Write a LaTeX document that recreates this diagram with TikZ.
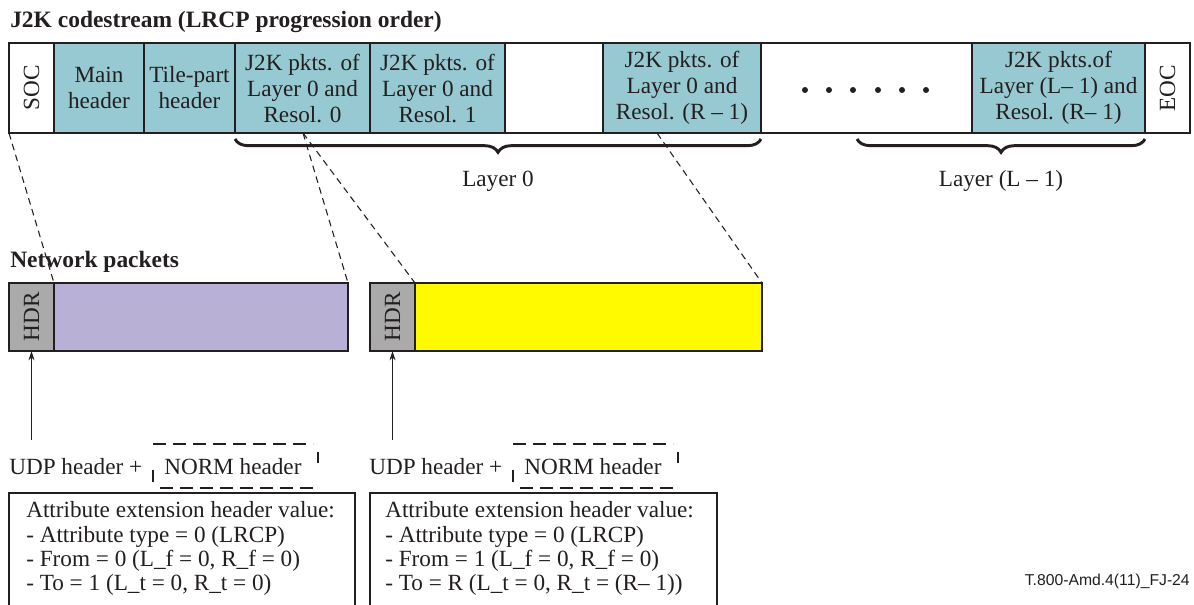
\documentclass[tikz,border=0pt]{standalone}
\usepackage{fontspec}
\usepackage{graphicx}
\setmainfont{Liberation Serif}
\newfontfamily\footfont{Liberation Sans}
\usetikzlibrary{decorations.pathreplacing,arrows.meta}
\newdimen\pxu \pxu=0.75pt
\definecolor{jteal}{RGB}{150,201,209}
\definecolor{jpurple}{RGB}{185,176,214}
\definecolor{jgray}{RGB}{170,170,170}
\definecolor{jyellow}{RGB}{255,250,0}
\definecolor{linec}{RGB}{35,31,32}
\begin{document}
\begin{tikzpicture}[x=0.75pt,y=-0.75pt,
  every node/.style={text=linec},
  cell/.style={draw=linec, line width=1pt, inner sep=0pt, outer sep=0pt, anchor=north west,
    minimum height=90\pxu, align=center, font=\fontsize{17.4}{19.5}\selectfont},
  pkt/.style={draw=linec, line width=1.1pt, inner sep=0pt, outer sep=0pt, anchor=north west,
    minimum height=68\pxu, font=\fontsize{17.4}{19.5}\selectfont},
  conn/.style={draw=linec, line width=0.8pt, dash pattern=on 5pt off 3.5pt},
  arr/.style={draw=linec, line width=0.8pt, -{Stealth[length=7pt,width=4.5pt]}},
  lbrace/.style={draw=linec, line width=2.2pt, decorate, decoration={brace, mirror, amplitude=10pt}},
  lbl/.style={inner sep=0pt, font=\fontsize{17.4}{19.5}\selectfont},
  ttl/.style={inner sep=0pt, font=\fontsize{17.6}{19.5}\selectfont\bfseries},
  normd/.style={draw=linec, line width=0.8pt, dash pattern=on 10pt off 5pt},
  attbox/.style={draw=linec, line width=1pt, inner sep=0pt, outer sep=0pt, anchor=north west},
  atttext/.style={inner sep=0pt, anchor=north west, align=left, font=\fontsize{17.4}{18.2}\selectfont}
]
\useasboundingbox[fill=white] (0,0) rectangle (1194,604);

% title
\node[ttl, anchor=base west] (title) at (10,27) {J2K codestream (LRCP progression order)};

% codestream cells
\node[cell, fill=white, minimum width=45\pxu] (soc) at (9,43) {\rotatebox{90}{SOC}};
\node[cell, fill=jteal, minimum width=90\pxu] (mainh) at (54,43) {Main\\header};
\node[cell, fill=jteal, minimum width=91\pxu] (tileh) at (144,43) {Tile-part\\header};
\node[cell, fill=jteal, minimum width=135\pxu] (r0) at (235,43) {J2K pkts. of\\Layer 0 and\\Resol. 0};
\node[cell, fill=jteal, minimum width=135\pxu] (r1) at (370,43) {J2K pkts. of\\Layer 0 and\\Resol. 1};
\node[cell, fill=white, minimum width=98\pxu] (gapa) at (505,43) {};
\node[cell, fill=jteal, minimum width=158\pxu] (rR) at (603,43) {J2K pkts. of\\Layer 0 and\\Resol. (R -- 1)};
\node[cell, fill=white, minimum width=211\pxu] (gapb) at (761,43) {};
\node[cell, fill=jteal, minimum width=173\pxu] (rL) at (972,43) {J2K pkts.of\\Layer (L-- 1) and\\Resol. (R-- 1)};
\node[cell, fill=white, minimum width=45\pxu] (eoc) at (1145,43) {\rotatebox{90}{EOC}};

% dots
\foreach \dx in {805,829,853,878,902,926}
  \fill[linec] (\dx,90) circle (3);

% braces
\draw[lbrace] (235,139) -- (761,139);
\draw[lbrace] (857,139) -- (1145,139);
\node[lbl, anchor=base] (lay0) at (498,186) {Layer 0};
\node[lbl, anchor=base] (layL) at (1001,186) {Layer (L -- 1)};

% network packets
\node[ttl, anchor=base west] (netp) at (10,267) {Network packets};
\node[pkt, fill=jgray, minimum width=45\pxu] (hdr1) at (9,283) {\rotatebox{90}{HDR}};
\node[pkt, fill=jpurple, minimum width=294\pxu] (pay1) at (54,283) {};
\node[pkt, fill=jgray, minimum width=45\pxu] (hdr2) at (370,283) {\rotatebox{90}{HDR}};
\node[pkt, fill=jyellow, minimum width=347\pxu] (pay2) at (415,283) {};

% dashed mapping lines
\coordinate (r0a) at (303,133);
\coordinate (rRa) at (657,133);
\draw[conn] (soc.south west) -- (hdr1.north east);
\draw[conn] (r0a) -- (pay1.north east);
\draw[conn] (r0a) -- (hdr2.north east);
\draw[conn] (rRa) -- (pay2.north east);

% arrows
\coordinate (a1) at (31.5,440);
\coordinate (a2) at (392.5,440);
\draw[arr] (a1) -- (hdr1.south);
\draw[arr] (a2) -- (hdr2.south);

% UDP / NORM labels
\node[lbl, anchor=west] (udp1) at (9,467) {UDP header +};
\node[lbl, anchor=west] (norm1) at (164,467) {NORM header};
\draw[normd] (153,444) -- (313,444);
\draw[normd] (160,488) -- (318,488);
\draw[line width=0.8pt, linec] (153,470) -- (153,482);
\draw[line width=0.8pt, linec] (318,452) -- (318,463);

\node[lbl, anchor=west] (udp2) at (369,467) {UDP header +};
\node[lbl, anchor=west] (norm2) at (524,467) {NORM header};
\draw[normd] (513,444) -- (673,444);
\draw[normd] (520,488) -- (678,488);
\draw[line width=0.8pt, linec] (513,470) -- (513,482);
\draw[line width=0.8pt, linec] (678,452) -- (678,463);

% attribute boxes
\node[attbox, minimum width=346\pxu, minimum height=130\pxu] (att1) at (9,493) {};
\node[atttext] (att1t) at (26,501.5) {Attribute extension header value:\\- Attribute type = 0 (LRCP)\\- From = 0 (L\_f = 0, R\_f = 0)\\- To = 1 (L\_t = 0, R\_t = 0)};
\node[attbox, minimum width=347\pxu, minimum height=130\pxu] (att2) at (370,493) {};
\node[atttext] (att2t) at (385,501.5) {Attribute extension header value:\\- Attribute type = 0 (LRCP)\\- From = 1 (L\_f = 0, R\_f = 0)\\- To = R (L\_t = 0, R\_t = (R-- 1))};

% footer
\node[inner sep=0pt, anchor=base east, font=\footfont\fontsize{11.8}{14}\selectfont] (foot) at (1190,585) {T.800-Amd.4(11)\_FJ-24};
\end{tikzpicture}
\end{document}
